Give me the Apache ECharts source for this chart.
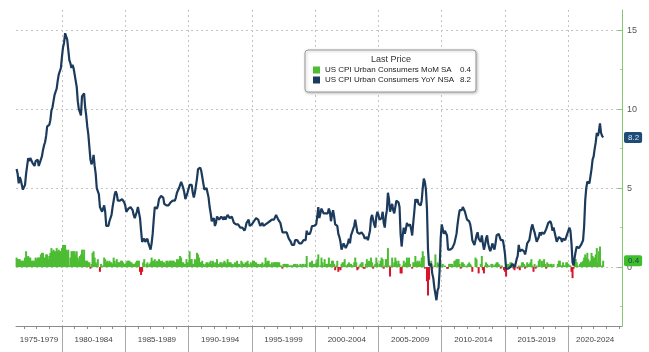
<!DOCTYPE html>
<html>
<head>
<meta charset="utf-8">
<title>US CPI</title>
<script src="https://cdn.jsdelivr.net/npm/echarts@6/dist/echarts.min.js"></script>
<style>
  html, body { margin: 0; padding: 0; background: #fff; }
  #chart { width: 649px; height: 352px; }
</style>
</head>
<body>
<div id="chart"></div>
<script>
// monthly series, first value is May 1976
const startYear = 1976;
const startMonth = 5;

const yoy1970s = [
  6.2, 5.9, 5.3, 5.7, 5.5, 5.5, 4.9, 4.9,
  5.2, 5.9, 6.4, 6.9, 6.7, 6.9, 6.8, 6.6, 6.6, 6.4, 6.7, 6.7,
  6.8, 6.4, 6.6, 6.5, 7.0, 7.4, 7.7, 7.9, 8.3, 8.9, 8.9, 9.0,
  9.3, 9.9, 10.1, 10.5, 10.9, 10.9, 11.3, 11.8, 12.2, 12.1, 12.6, 13.3,
];
const yoy1980s = [
  13.9, 14.2, 14.8, 14.7, 14.4, 14.4, 13.1, 12.9, 12.6, 12.8, 12.6, 12.5,
  11.8, 11.4, 10.5, 10.0, 9.8, 9.6, 10.8, 10.8, 11.0, 10.1, 9.6, 8.9,
  8.4, 7.6, 6.8, 6.5, 6.7, 7.1, 6.4, 5.9, 5.0, 5.1, 4.6, 3.8,
  3.7, 3.5, 3.6, 3.9, 3.5, 2.6, 2.5, 2.6, 2.9, 2.9, 3.3, 3.8,
  4.2, 4.6, 4.8, 4.6, 4.2, 4.2, 4.2, 4.3, 4.3, 4.3, 4.1, 3.9,
  3.5, 3.5, 3.7, 3.7, 3.8, 3.8, 3.6, 3.3, 3.1, 3.2, 3.5, 3.8,
  3.9, 3.1, 2.3, 1.6, 1.5, 1.8, 1.6, 1.6, 1.8, 1.5, 1.3, 1.1,
  1.5, 2.1, 3.0, 3.8, 3.9, 3.7, 3.9, 4.3, 4.4, 4.5, 4.5, 4.4,
  4.0, 3.9, 3.9, 3.9, 3.9, 4.0, 4.1, 4.0, 4.2, 4.2, 4.2, 4.4,
  4.7, 4.8, 5.0, 5.1, 5.4, 5.2, 5.0, 4.7, 4.3, 4.5, 4.7, 4.6,
];
const yoy1990s = [
  5.2, 5.3, 5.2, 4.7, 4.4, 4.7, 4.8, 5.6, 6.2, 6.3, 6.3, 6.1,
  5.7, 5.3, 4.9, 4.9, 5.0, 4.7, 4.4, 3.8, 3.4, 2.9, 3.0, 3.1,
  2.6, 2.8, 3.2, 3.2, 3.0, 3.1, 3.2, 3.1, 3.0, 3.2, 3.0, 2.9,
  3.3, 3.2, 3.1, 3.2, 3.2, 3.0, 2.8, 2.8, 2.7, 2.8, 2.7, 2.7,
  2.5, 2.5, 2.5, 2.4, 2.3, 2.5, 2.8, 2.9, 3.0, 2.6, 2.7, 2.7,
  2.8, 2.9, 2.9, 3.1, 3.2, 3.0, 2.8, 2.6, 2.5, 2.8, 2.6, 2.5,
  2.7, 2.7, 2.8, 2.9, 2.9, 2.8, 3.0, 2.9, 3.0, 3.0, 3.3, 3.3,
  3.0, 3.0, 2.8, 2.5, 2.2, 2.3, 2.2, 2.2, 2.2, 2.1, 1.8, 1.7,
  1.6, 1.4, 1.4, 1.4, 1.7, 1.7, 1.7, 1.6, 1.5, 1.5, 1.5, 1.6,
  1.7, 1.6, 1.7, 2.3, 2.1, 2.0, 2.1, 2.3, 2.6, 2.6, 2.6, 2.7,
];
const yoy2000s = [
  2.7, 3.2, 3.8, 3.1, 3.2, 3.7, 3.7, 3.4, 3.5, 3.4, 3.4, 3.4,
  3.7, 3.5, 2.9, 3.3, 3.6, 3.2, 2.7, 2.7, 2.6, 2.1, 1.9, 1.6,
  1.1, 1.1, 1.5, 1.6, 1.2, 1.1, 1.5, 1.8, 1.5, 2.0, 2.2, 2.4,
  2.6, 3.0, 3.0, 2.2, 2.1, 2.1, 2.1, 2.2, 2.3, 2.0, 1.8, 1.9,
  1.9, 1.7, 1.7, 2.3, 3.1, 3.3, 3.0, 2.7, 2.5, 3.2, 3.5, 3.3,
  3.0, 3.0, 3.1, 3.5, 2.8, 2.5, 3.2, 3.6, 4.7, 4.3, 3.5, 3.4,
  4.0, 3.6, 3.4, 3.5, 4.2, 4.3, 4.1, 3.8, 2.1, 1.3, 2.0, 2.5,
  2.1, 2.4, 2.8, 2.6, 2.7, 2.7, 2.4, 2.0, 2.8, 3.5, 4.3, 4.1,
  4.3, 4.0, 4.0, 3.9, 4.2, 5.0, 5.6, 5.4, 4.9, 3.7, 1.1, 0.1,
  0.0, 0.2, -0.4, -0.7, -1.3, -1.4, -2.1, -1.5, -1.3, -0.2, 1.8, 2.7,
];
const yoy2010s = [
  2.6, 2.1, 2.3, 2.2, 2.0, 1.1, 1.2, 1.1, 1.1, 1.2, 1.1, 1.5,
  1.6, 2.1, 2.7, 3.2, 3.6, 3.6, 3.6, 3.8, 3.9, 3.5, 3.4, 3.0,
  2.9, 2.9, 2.7, 2.3, 1.7, 1.7, 1.4, 1.7, 2.0, 2.2, 1.8, 1.7,
  1.6, 2.0, 1.5, 1.1, 1.4, 1.8, 2.0, 1.5, 1.2, 1.0, 1.2, 1.5,
  1.6, 1.1, 1.5, 2.0, 2.1, 2.1, 2.0, 1.7, 1.7, 1.7, 1.3, 0.8,
  -0.1, 0.0, -0.1, -0.2, 0.0, 0.1, 0.2, 0.2, 0.0, 0.2, 0.5, 0.7,
  1.4, 1.0, 0.9, 1.1, 1.0, 1.0, 0.8, 1.1, 1.5, 1.6, 1.7, 2.1,
  2.5, 2.7, 2.4, 2.2, 1.9, 1.6, 1.7, 1.9, 2.2, 2.0, 2.2, 2.1,
  2.1, 2.2, 2.4, 2.5, 2.8, 2.9, 2.9, 2.7, 2.3, 2.5, 2.2, 1.9,
  1.6, 1.5, 1.9, 2.0, 1.8, 1.6, 1.8, 1.7, 1.7, 1.8, 2.1, 2.3,
];
const yoy2020s = [
  2.5, 2.3, 1.5, 0.3, 0.1, 0.6, 1.0, 1.3, 1.4, 1.2, 1.2, 1.4,
  1.4, 1.7, 2.6, 4.2, 5.0, 5.4, 5.4, 5.3, 5.4, 6.2, 6.8, 7.0,
  7.5, 7.9, 8.5, 8.3, 8.6, 9.1, 8.5, 8.3, 8.2,
];

const mom1970s = [
  0.6, 0.5, 0.5, 0.5, 0.4, 0.4, 0.4, 0.4,
  0.6, 1.0, 0.6, 0.7, 0.6, 0.6, 0.4, 0.4, 0.4, 0.4, 0.6, 0.5,
  0.6, 0.6, 0.6, 0.8, 0.9, 0.9, 0.6, 0.6, 0.8, 0.8, 0.5, 0.7,
  0.9, 1.2, 1.0, 1.1, 1.0, 1.0, 1.2, 1.0, 1.1, 1.0, 1.0, 1.2,
];
const mom1980s = [
  1.4, 1.4, 1.4, 1.1, 1.0, 1.1, 0.1, 0.6, 1.0, 1.0, 1.0, 1.0,
  0.8, 1.0, 0.6, 0.4, 0.7, 0.8, 1.1, 0.8, 1.1, 0.4, 0.4, 0.4,
  0.3, 0.3, -0.1, 0.2, 0.9, 1.0, 0.6, 0.3, 0.2, 0.5, 0.0, -0.3,
  0.2, 0.0, 0.1, 0.6, 0.5, 0.3, 0.4, 0.3, 0.4, 0.3, 0.3, 0.2,
  0.6, 0.4, 0.2, 0.5, 0.3, 0.3, 0.3, 0.4, 0.4, 0.3, 0.2, 0.2,
  0.3, 0.4, 0.4, 0.4, 0.3, 0.3, 0.2, 0.2, 0.2, 0.3, 0.4, 0.4,
  0.4, -0.3, -0.5, -0.3, 0.3, 0.5, 0.0, 0.2, 0.3, 0.1, 0.2, 0.3,
  0.6, 0.4, 0.4, 0.5, 0.3, 0.4, 0.3, 0.5, 0.4, 0.3, 0.4, 0.3,
  0.3, 0.2, 0.4, 0.4, 0.3, 0.4, 0.4, 0.4, 0.4, 0.4, 0.3, 0.3,
  0.5, 0.4, 0.5, 0.7, 0.6, 0.3, 0.3, 0.2, 0.2, 0.5, 0.3, 0.3,
];
const mom1990s = [
  1.0, 0.5, 0.5, 0.2, 0.2, 0.5, 0.4, 0.9, 0.8, 0.6, 0.3, 0.3,
  0.4, 0.2, 0.1, 0.2, 0.3, 0.3, 0.2, 0.3, 0.4, 0.2, 0.4, 0.3,
  0.1, 0.3, 0.5, 0.2, 0.2, 0.3, 0.3, 0.2, 0.3, 0.4, 0.3, 0.2,
  0.5, 0.3, 0.3, 0.3, 0.2, 0.2, 0.1, 0.3, 0.2, 0.4, 0.2, 0.2,
  0.1, 0.4, 0.3, 0.2, 0.2, 0.3, 0.3, 0.4, 0.2, 0.1, 0.3, 0.2,
  0.4, 0.4, 0.3, 0.3, 0.2, 0.2, 0.1, 0.2, 0.2, 0.3, 0.1, 0.2,
  0.6, 0.3, 0.4, 0.4, 0.2, 0.1, 0.3, 0.2, 0.3, 0.3, 0.3, 0.3,
  0.3, 0.3, 0.1, 0.1, -0.1, 0.2, 0.2, 0.2, 0.2, 0.2, 0.1, 0.1,
  0.1, 0.1, 0.1, 0.2, 0.2, 0.1, 0.2, 0.1, 0.1, 0.2, 0.1, 0.2,
  0.2, 0.1, 0.2, 0.7, 0.0, 0.0, 0.3, 0.3, 0.4, 0.2, 0.2, 0.2,
];
const mom2000s = [
  0.3, 0.5, 0.8, 0.0, 0.1, 0.6, 0.3, 0.1, 0.5, 0.2, 0.2, 0.2,
  0.6, 0.2, 0.2, 0.4, 0.4, 0.2, -0.2, 0.1, 0.4, -0.3, -0.1, -0.2,
  0.2, 0.3, 0.3, 0.5, 0.1, 0.1, 0.2, 0.3, 0.2, 0.2, 0.1, 0.1,
  0.3, 0.6, 0.3, -0.2, -0.1, 0.1, 0.2, 0.3, 0.3, -0.1, -0.1, 0.2,
  0.5, 0.3, 0.4, 0.3, 0.6, 0.3, -0.1, 0.1, 0.2, 0.6, 0.3, 0.0,
  0.2, 0.4, 0.6, 0.5, -0.1, 0.1, 0.5, 0.5, 1.2, 0.1, -0.6, 0.1,
  0.6, 0.1, 0.3, 0.6, 0.4, 0.2, 0.4, 0.2, -0.4, -0.4, 0.1, 0.4,
  0.2, 0.3, 0.6, 0.4, 0.6, 0.2, 0.0, -0.1, 0.3, 0.3, 0.7, 0.3,
  0.4, 0.3, 0.4, 0.2, 0.6, 1.0, 0.7, -0.1, 0.0, -0.9, -1.8, -0.8,
  0.2, 0.4, -0.1, 0.0, 0.1, 0.8, 0.0, 0.3, 0.2, 0.2, 0.3, 0.1,
];
const mom2010s = [
  0.2, 0.0, 0.1, 0.0, -0.1, -0.1, 0.2, 0.2, 0.2, 0.2, 0.1, 0.4,
  0.4, 0.5, 0.5, 0.5, 0.2, -0.1, 0.3, 0.3, 0.2, 0.0, 0.1, 0.0,
  0.2, 0.3, 0.2, 0.1, -0.3, 0.0, 0.0, 0.6, 0.5, 0.0, -0.4, 0.0,
  0.2, 0.7, -0.2, -0.4, 0.1, 0.3, 0.2, 0.1, 0.1, 0.0, 0.2, 0.2,
  0.1, 0.1, 0.2, 0.3, 0.3, 0.2, 0.1, -0.1, 0.1, 0.0, -0.2, -0.3,
  -0.6, 0.2, 0.2, 0.1, 0.3, 0.3, 0.1, -0.1, -0.2, 0.1, 0.0, -0.1,
  0.1, -0.2, 0.1, 0.3, 0.3, 0.2, -0.1, 0.1, 0.3, 0.2, 0.2, 0.3,
  0.5, 0.1, -0.3, 0.2, -0.1, 0.1, 0.0, 0.4, 0.5, 0.0, 0.4, 0.2,
  0.5, 0.2, -0.1, 0.3, 0.2, 0.1, 0.2, 0.2, 0.1, 0.2, 0.0, 0.0,
  0.0, 0.2, 0.4, 0.4, 0.1, 0.1, 0.3, 0.1, 0.1, 0.3, 0.3, 0.2,
];
const mom2020s = [
  0.1, 0.1, -0.3, -0.7, -0.1, 0.5, 0.5, 0.3, 0.1, 0.0, 0.2, 0.3,
  0.3, 0.4, 0.6, 0.8, 0.6, 0.9, 0.5, 0.3, 0.4, 0.9, 0.7, 0.6,
  0.6, 0.8, 1.2, 0.3, 1.0, 1.3, 0.0, 0.1, 0.4,
];

const periodLabels = [
  "1975-1979", "1980-1984", "1985-1989", "1990-1994", "1995-1999",
  "2000-2004", "2005-2009", "2010-2014", "2015-2019", "2020-2024",
];
const periodBreaks = [1980, 1985, 1990, 1995, 2000, 2005, 2010, 2015, 2020];
const yLabels = [0, 5, 10, 15];
const yMinorTicks = [-2.5, 2.5, 7.5, 12.5];

const momName = "US CPI Urban Consumers MoM SA";
const yoyName = "US CPI Urban Consumers YoY NSA";

const xMin = 1976.37;
const xMax = 2024.24;
const yMin = -3.73;
const yMax = 16.27;

const GREEN = "#4dbd33";
const RED = "#d9142a";
const NAVY = "#1c3a5b";

const yoy = [].concat(yoy1970s, yoy1980s, yoy1990s, yoy2000s, yoy2010s, yoy2020s);
const mom = [].concat(mom1970s, mom1980s, mom1990s, mom2000s, mom2010s, mom2020s);

// x position = end of month, in fractional years
const startIndex = startYear * 12 + (startMonth - 1);
const times = yoy.map((_, i) => (startIndex + i + 1) / 12);

const lastYoy = yoy[yoy.length - 1];
const lastMom = mom[mom.length - 1];

// label centres: middle of each visible 5-year block
const labelPos = periodLabels.map((_, i) => {
  if (i === 0) return (xMin + periodBreaks[0]) / 2;
  if (i === periodLabels.length - 1) return (periodBreaks[i - 1] + xMax) / 2;
  return periodBreaks[i - 1] + 2.5;
});
const yearTicks = [];
for (let y = 1977; y <= 2024; y++) yearTicks.push(y);

const chart = echarts.init(document.querySelector("#chart"));

const textFont = "Liberation Sans";

chart.setOption({
  backgroundColor: "#fff",
  animation: false,
  textStyle: { fontFamily: textFont },
  title: {
    text: "Last Price",
    left: 391,
    top: 55,
    padding: 0,
    textAlign: "center",
    textStyle: { fontSize: 9, fontWeight: "normal", color: "#333", fontFamily: textFont },
  },
  legend: {
    orient: "vertical",
    left: 305,
    top: 50,
    padding: [16, 5, 8, 8],
    itemGap: 2,
    itemWidth: 7,
    itemHeight: 7,
    icon: "rect",
    borderColor: "#9a9a9a",
    borderWidth: 1,
    borderRadius: 3,
    backgroundColor: "#fff",
    shadowBlur: 3,
    shadowColor: "rgba(0,0,0,0.25)",
    shadowOffsetX: 1,
    shadowOffsetY: 1,
    data: [
      { name: momName, itemStyle: { color: GREEN } },
      { name: yoyName, itemStyle: { color: NAVY } },
    ],
    formatter: (name) => {
      const v = name === momName ? lastMom : lastYoy;
      return `{n|${name}}{v|${v.toFixed(1)}}`;
    },
    textStyle: {
      fontSize: 8,
      color: "#222",
      rich: {
        n: { fontSize: 8, lineHeight: 10, color: "#222", width: 132, fontFamily: textFont },
        v: { fontSize: 8, lineHeight: 10, color: "#222", width: 14, align: "right", fontFamily: textFont },
      },
    },
  },
  grid: { left: 16, right: 27, top: 10, bottom: 26 },
  xAxis: [
    {
      type: "value",
      min: xMin,
      max: xMax,
      axisLine: { show: true, onZero: false, lineStyle: { color: "#8c8c8c", width: 1 } },
      axisTick: {
        show: true,
        customValues: periodBreaks,
        length: 26,
        lineStyle: { color: "#a8a8a8", width: 1 },
      },
      axisLabel: {
        show: true,
        customValues: labelPos,
        formatter: (value) => {
          const idx = labelPos.findIndex((p) => Math.abs(p - value) < 0.01);
          return idx >= 0 ? periodLabels[idx] : "";
        },
        fontSize: 8,
        color: "#444",
        margin: 10,
      },
      splitLine: {
        show: true,
        lineStyle: { color: "#c4c4c4", type: [2, 3], width: 1 },
      },
    },
    {
      type: "value",
      min: xMin,
      max: xMax,
      position: "bottom",
      axisLine: { show: false, onZero: false },
      axisTick: {
        show: true,
        customValues: yearTicks,
        length: 3,
        lineStyle: { color: "#8c8c8c" },
      },
      axisLabel: { show: false },
      splitLine: { show: false },
    },
  ],
  yAxis: [
    {
      type: "value",
      position: "right",
      min: yMin,
      max: yMax,
      axisLine: { show: true, onZero: false, lineStyle: { color: "#84c872", width: 1 } },
      axisTick: {
        show: true,
        inside: true,
        customValues: yLabels,
        length: 4,
        lineStyle: { color: "#84c872" },
      },
      axisLabel: {
        customValues: yLabels,
        fontSize: 9,
        color: "#555",
        margin: 5,
      },
      splitLine: {
        show: true,
        lineStyle: { color: "#c4c4c4", type: [2, 3], width: 1 },
      },
    },
    {
      type: "value",
      position: "right",
      min: yMin,
      max: yMax,
      axisLine: { show: false, onZero: false },
      axisTick: {
        show: true,
        inside: true,
        customValues: yMinorTicks,
        length: 2,
        lineStyle: { color: "#a6d89a" },
      },
      axisLabel: { show: false },
      splitLine: { show: false },
    },
    {
      type: "value",
      position: "right",
      min: yMin,
      max: yMax,
      axisLine: { show: false, onZero: false },
      axisTick: { show: false },
      axisLabel: {
        customValues: [lastYoy, lastMom],
        margin: 2,
        formatter: (value) =>
          Math.abs(value - lastYoy) < 1e-6
            ? `{y|${value.toFixed(1)}}`
            : `{m|${value.toFixed(1)}}`,
        rich: {
          y: {
            backgroundColor: "#1f4b74",
            color: "#d6e6f6",
            fontSize: 8,
            padding: [2, 3, 1, 4],
            borderRadius: 2,
          },
          m: {
            backgroundColor: "#3fbd2a",
            color: "#1c3a5b",
            fontSize: 8,
            padding: [2, 3, 1, 4],
            borderRadius: 2,
          },
        },
      },
      splitLine: { show: false },
    },
  ],
  series: [
    {
      name: momName,
      type: "bar",
      xAxisIndex: 0,
      yAxisIndex: 0,
      barWidth: 2,
      color: GREEN,
      data: mom.map((v, i) => ({
        value: [times[i], v],
        itemStyle: { color: v < 0 ? RED : GREEN },
      })),
    },
    {
      name: yoyName,
      type: "line",
      xAxisIndex: 0,
      yAxisIndex: 0,
      showSymbol: false,
      color: NAVY,
      lineStyle: { color: NAVY, width: 2.2 },
      data: yoy.map((v, i) => [times[i], v]),
      z: 3,
    },
  ],
});
</script>
</body>
</html>
